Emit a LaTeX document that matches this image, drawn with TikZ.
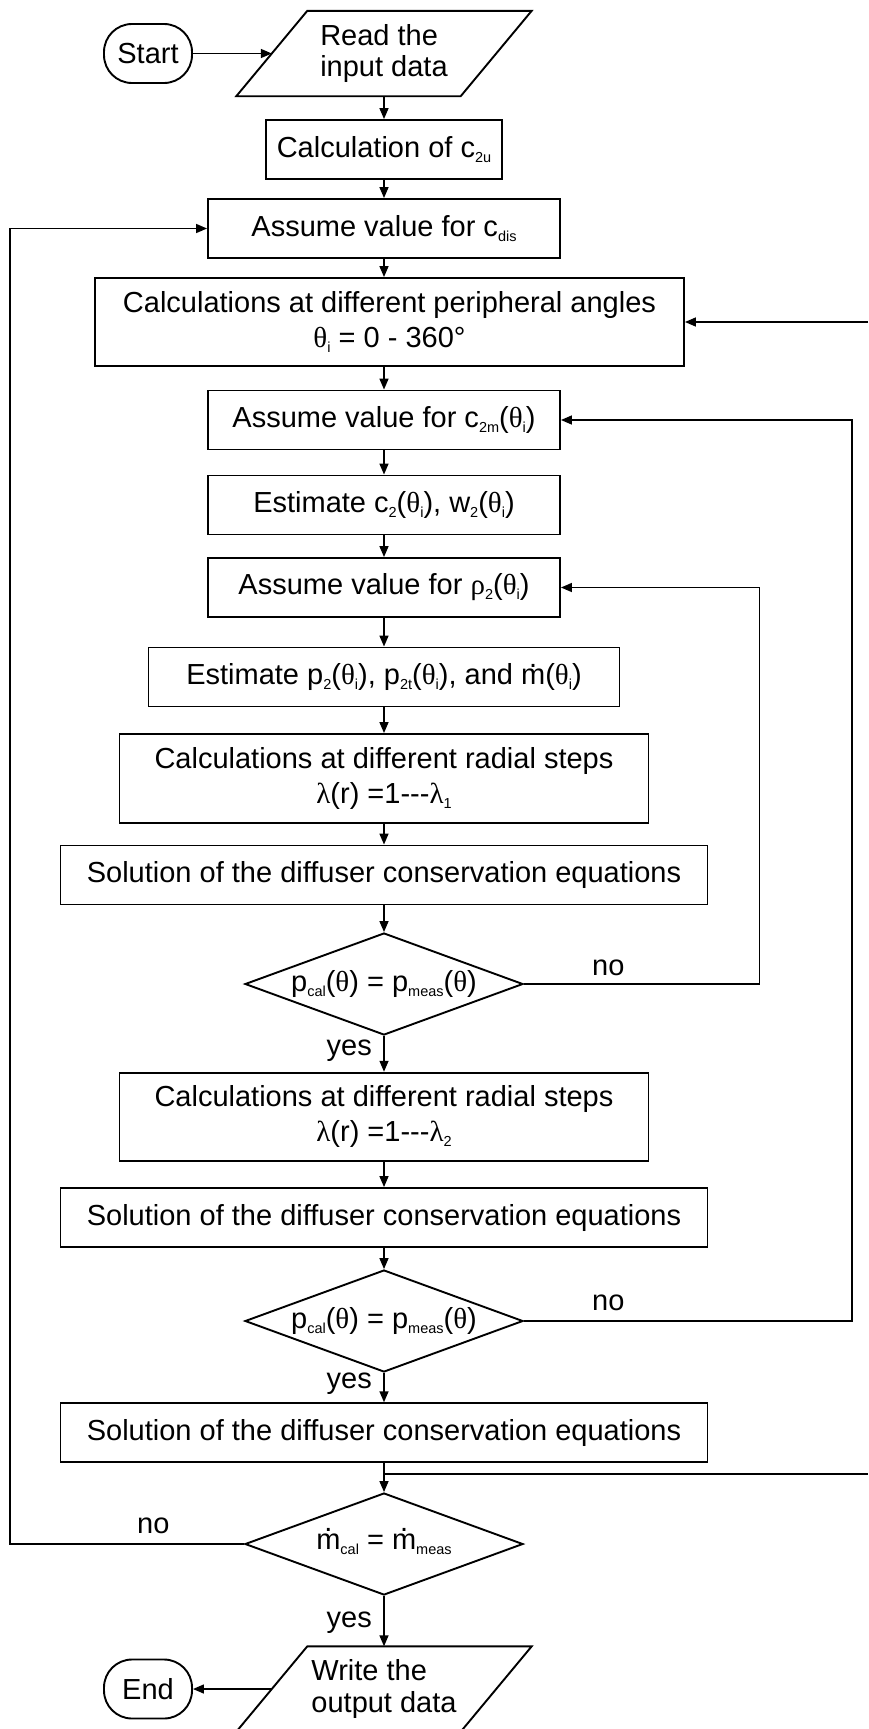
\documentclass[tikz,border=0pt]{standalone}
\usepackage{fontspec}
\setmainfont{Liberation Sans}
\newfontfamily\grk{Liberation Serif}
\usetikzlibrary{arrows.meta,shapes.geometric}
\newcommand\sub[1]{\raisebox{-5pt}{\fontsize{14.5}{14.5}\selectfont #1}}
\newcommand\mdot{\ooalign{m\cr\hidewidth\raisebox{0.6em}{.}\hidewidth\cr}}
\newcommand\gth{{\grk θ}}
\newcommand\thi{{\grk θ}\sub{i}}
\begin{document}
\begin{tikzpicture}[x=1pt,y=-1pt,
  every node/.style={font=\fontsize{29}{35}\selectfont, inner sep=0pt},
  box/.style={draw, line width=1.9pt, minimum height=59pt, align=center},
  term/.style={draw, line width=1.9pt, rounded corners=28pt, minimum width=88pt, minimum height=59pt},
  io/.style={minimum width=224pt, minimum height=85pt, align=left, font=\fontsize{29}{31.5}\selectfont},
  ioshape/.style={draw, line width=1.9pt, line join=miter},
  dec/.style={draw, diamond, line width=1.9pt, minimum width=278pt, minimum height=102pt},
  arr/.style={line width=1.5pt, -{Triangle[length=11pt,width=9pt]}},
  ln/.style={line width=1.5pt}
]
\useasboundingbox (0,0) rectangle (868,1729);

\node[term] (start) at (148,53.5) {Start};
\node[io] (read) at (384,53.5) {Read the\\input data};
\draw[ioshape] ([xshift=35.5pt]read.north west) -- ([xshift=35.5pt]read.north east)
  -- ([xshift=-35.5pt]read.south east) -- ([xshift=-35.5pt]read.south west) -- cycle;

\node[box, minimum width=236pt] (c2u) at (384,149.5) {Calculation of c\sub{2u}};
\node[box, minimum width=352pt] (cdis) at (384,228.5) {Assume value for c\sub{dis}};
\node[box, minimum width=589pt, minimum height=88pt] (peri) at (389.5,322)
  {Calculations at different peripheral angles\\\thi{} = 0 - 360°};
\node[box, minimum width=352pt] (c2m) at (384,420) {Assume value for c\sub{2m}(\thi)};
\node[box, minimum width=352pt] (est1) at (384,505) {Estimate c\sub{2}(\thi), w\sub{2}(\thi)};
\node[box, minimum width=352pt] (rho) at (384,587.5) {Assume value for {\grk ρ}\sub{2}(\thi)};
\node[box, minimum width=471pt] (est2) at (384,677)
  {Estimate p\sub{2}(\thi), p\sub{2t}(\thi), and \mdot(\thi)};
\node[box, minimum width=529pt, minimum height=89pt] (rad1) at (384,778.5)
  {Calculations at different radial steps\\{\grk λ}(r) =1-{}-{}-{\grk λ}\sub{1}};
\node[box, minimum width=647pt] (sol1) at (384,875) {Solution of the diffuser conservation equations};
\node[dec] (dia1) at (384,984) {\makebox[0pt]{p\sub{cal}(\gth) = p\sub{meas}(\gth)}};
\node[box, minimum width=529pt, minimum height=88pt] (rad2) at (384,1116.7)
  {Calculations at different radial steps\\{\grk λ}(r) =1-{}-{}-{\grk λ}\sub{2}};
\node[box, minimum width=647pt] (sol2) at (384,1217.5) {Solution of the diffuser conservation equations};
\node[dec] (dia2) at (384,1321) {\makebox[0pt]{p\sub{cal}(\gth) = p\sub{meas}(\gth)}};
\node[box, minimum width=647pt] (sol3) at (384,1432.7) {Solution of the diffuser conservation equations};
\node[dec] (dia3) at (384,1544) {\makebox[0pt]{\mdot\sub{cal} = \mdot\sub{meas}}};
\node[io] (write) at (384,1689) {Write the\\output data};
\draw[ioshape] ([xshift=35.5pt]write.north west) -- ([xshift=35.5pt]write.north east)
  -- ([xshift=-35.5pt]write.south east) -- ([xshift=-35.5pt]write.south west) -- cycle;
\node[term] (end) at (148,1689) {End};

% main flow
\draw[arr] (start) -- (read.west);
\draw[arr] (read) -- (c2u);
\draw[arr] (c2u) -- (cdis);
\draw[arr] (cdis.south) -- (cdis.south |- peri.north);
\draw[arr] (c2m.north |- peri.south) -- (c2m.north);
\draw[arr] (c2m) -- (est1);
\draw[arr] (est1) -- (rho);
\draw[arr] (rho) -- (est2);
\draw[arr] (est2) -- (rad1);
\draw[arr] (rad1) -- (sol1);
\draw[arr] (sol1) -- (dia1);
\draw[arr] (dia1) -- (rad2);
\draw[arr] (rad2) -- (sol2);
\draw[arr] (sol2) -- (dia2);
\draw[arr] (dia2) -- (sol3);
\draw[arr] (sol3) -- (dia3);
\draw[arr] (dia3) -- (write.north);
\draw[arr] (write.west) -- (end);

% loops
\draw[arr] (dia1.east) -- ++(235.6,0) |- (rho.east);
\draw[arr] (dia2.east) -- ++(328,0) |- (c2m.east);
\draw[arr] (dia3.west) -- ++(-234,0) |- (cdis.west);
\coordinate (j) at (384,1474);
\coordinate (rb) at (868,1474);
\coordinate (rt) at (868,322);
\draw[ln] (j) -- (rb);
\draw[arr] (rt) -- (peri.east);

% labels
\node[anchor=base east] (yes1) at (372,1055) {yes};
\node[anchor=base east] (yes2) at (372,1388) {yes};
\node[anchor=base east] (yes3) at (372,1627) {yes};
\node[anchor=base west] (no1) at (592,975) {no};
\node[anchor=base west] (no2) at (592,1310) {no};
\node[anchor=base west] (no3) at (137,1533) {no};
\end{tikzpicture}
\end{document}
